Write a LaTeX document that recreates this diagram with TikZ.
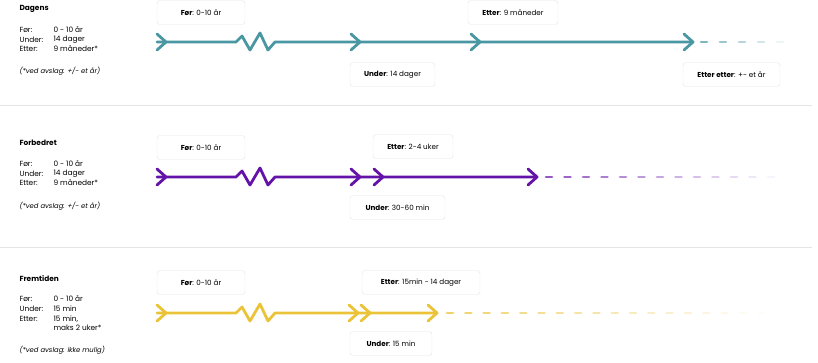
\documentclass[tikz,border=0pt]{standalone}
\usepackage{fontspec}
\setmainfont{Poppins}
\usetikzlibrary{positioning,calc}
\definecolor{dagens}{HTML}{4A97A4}
\definecolor{forbedret}{HTML}{6413A8}
\definecolor{fremtid}{HTML}{EAC338}
\tikzset{
  tline/.style ={line width=2.8pt, line cap=round, line join=round},
  dashseg/.style={line width=2.8pt, line cap=round},
}
% chevron with its tip at the given coordinate
\newcommand\chev[2]{\draw[tline,#1] ($(#2)+(-9,-8)$) -- (#2) -- ($(#2)+(-9,8)$);}

\begin{document}
\begin{tikzpicture}[x=1pt, y=-1pt,
  lbox/.style={draw=black!10, fill=white, rounded corners=3pt, minimum height=24pt,
    inner sep=0pt, font=\fontsize{7.2}{8}\selectfont},
  head/.style={anchor=west, font=\fontsize{7.4}{8}\selectfont\bfseries},
  info/.style={anchor=west, font=\fontsize{7.4}{8}\selectfont},
  note/.style={anchor=west, font=\fontsize{6.8}{8}\selectfont\itshape},
  sep/.style={line width=0.6pt, black!10}
]
\useasboundingbox (0,0) rectangle (818,362);

%--- Separators ---
\coordinate (s1a) at (0,105);   \coordinate (s1b) at (812,105);
\coordinate (s2a) at (0,247);   \coordinate (s2b) at (812,247);
\draw[sep] (s1a) -- (s1b);
\draw[sep] (s2a) -- (s2b);

%--- Dagens ---
\node[head] (dHead) at (16,9) {Dagens};
\node[info] (dF)  at (16,30) {Før:};   \node[info] (dFv) at (50,30) {0 - 10 år};
\node[info] (dU)  at (16,40) {Under:}; \node[info] (dUv) at (50,40) {14 dager};
\node[info] (dE)  at (16,49) {Etter:}; \node[info] (dEv) at (50,49) {9 måneder*};
\node[note] (dN)  at (16,71) {(*ved avslag: +/- et år)};

\def\yA{42}
\coordinate (d0) at (157,\yA);
\coordinate (dz) at (236,\yA);
\coordinate (d1) at (360,\yA);
\coordinate (d2) at (480,\yA);
\coordinate (d3) at (693,\yA);
\draw[tline,dagens] (d0) -- (dz) -- ++(6,-6) -- ++(8,14) -- ++(10,-17) -- ++(8,17) -- ++(7,-8) -- (d3);
\chev{dagens}{$(d0)+(9,0)$}
\chev{dagens}{d1}
\chev{dagens}{d2}
\chev{dagens}{d3}
\foreach \i in {0,...,4}{
  \pgfmathsetmacro\op{0.7-0.6*\i/4}
  \draw[dashseg,dagens,opacity=\op] (701+19*\i,\yA) -- ++(6,0);
}
\node[lbox, minimum width=88pt] (dFoer)  at (201,12.5)  {\textbf{Før}: 0-10 år};
\node[lbox, minimum width=90pt] (dEtter) at (513,12.5)  {\textbf{Etter}: 9 måneder};
\node[lbox, minimum width=85pt] (dUnder) at (392.5,74.5) {\textbf{Under}: 14 dager};
\node[lbox, minimum width=97pt] (dEE)    at (731.5,74.5) {\textbf{Etter etter}: +- et år};

%--- Forbedret ---
\node[head] (fHead) at (16,143) {Forbedret};
\node[info] (fF)  at (16,164) {Før:};   \node[info] (fFv) at (50,164) {0 - 10 år};
\node[info] (fU)  at (16,174) {Under:}; \node[info] (fUv) at (50,174) {14 dager};
\node[info] (fE)  at (16,183) {Etter:}; \node[info] (fEv) at (50,183) {9 måneder*};
\node[note] (fN)  at (16,206) {(*ved avslag: +/- et år)};

\def\yB{177}
\coordinate (f0) at (157,\yB);
\coordinate (fz) at (236,\yB);
\coordinate (f1) at (360,\yB);
\coordinate (f2) at (383,\yB);
\coordinate (f3) at (537,\yB);
\draw[tline,forbedret] (f0) -- (fz) -- ++(6,-6) -- ++(8,14) -- ++(10,-17) -- ++(8,17) -- ++(7,-8) -- (f3);
\chev{forbedret}{$(f0)+(9,0)$}
\chev{forbedret}{f1}
\chev{forbedret}{f2}
\chev{forbedret}{f3}
\foreach \i in {0,...,12}{
  \pgfmathsetmacro\op{0.7-0.65*\i/12}
  \draw[dashseg,forbedret,opacity=\op] (546+18.5*\i,\yB) -- ++(6,0);
}
\node[lbox, minimum width=88pt] (fFoer)  at (201,147.5)  {\textbf{Før}: 0-10 år};
\node[lbox, minimum width=80pt] (fEtter) at (413,146.5)  {\textbf{Etter}: 2-4 uker};
\node[lbox, minimum width=95pt] (fUnder) at (397.5,207.5) {\textbf{Under}: 30-60 min};

%--- Fremtiden ---
\node[head] (rHead) at (16,279) {Fremtiden};
\node[info] (rF)  at (16,299) {Før:};   \node[info] (rFv) at (50,299) {0 - 10 år};
\node[info] (rU)  at (16,309) {Under:}; \node[info] (rUv) at (50,309) {15 min};
\node[info] (rE)  at (16,319) {Etter:}; \node[info] (rEv) at (50,319) {15 min,};
\node[info] (rEw) at (50,328) {maks 2 uker*};
\node[note] (rN)  at (16,350) {(*ved avslag: ikke mulig)};

\def\yC{313}
\coordinate (r0) at (157,\yC);
\coordinate (rz) at (236,\yC);
\coordinate (r1) at (358,\yC);
\coordinate (r2) at (370,\yC);
\coordinate (r3) at (437,\yC);
\draw[tline,fremtid] (r0) -- (rz) -- ++(6,-6) -- ++(8,14) -- ++(10,-17) -- ++(8,17) -- ++(7,-8) -- (r3);
\chev{fremtid}{$(r0)+(9,0)$}
\chev{fremtid}{r1}
\chev{fremtid}{r2}
\chev{fremtid}{r3}
\foreach \i in {0,...,17}{
  \pgfmathsetmacro\op{0.75-0.72*\i/17}
  \draw[dashseg,fremtid,opacity=\op] (447+18.3*\i,\yC) -- ++(6,0);
}
\node[lbox, minimum width=88pt]  (rFoer)  at (201,282.5)  {\textbf{Før}: 0-10 år};
\node[lbox, minimum width=118pt] (rEtter) at (421,282.5)  {\textbf{Etter}: 15min - 14 dager};
\node[lbox, minimum width=82pt]  (rUnder) at (391,343.5)  {\textbf{Under}: 15 min};

\end{tikzpicture}
\end{document}
